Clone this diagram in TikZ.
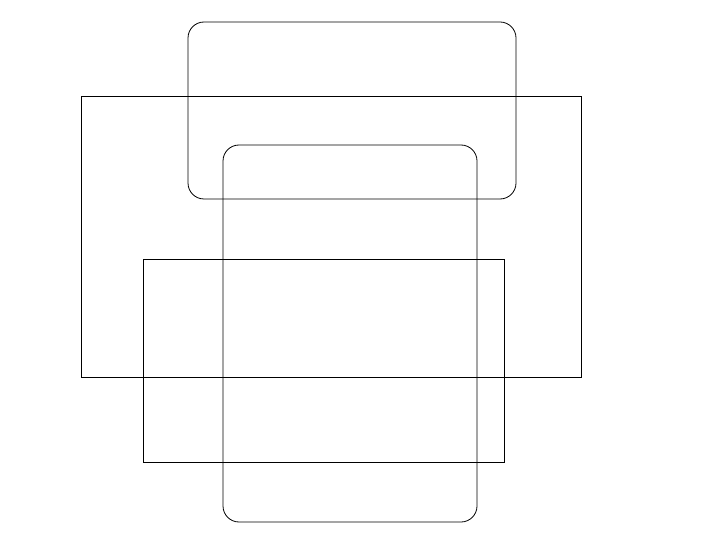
\documentclass[tikz,border=0pt]{standalone}
\begin{document}
\begin{tikzpicture}[x=1pt,y=-1pt,
  box/.style={draw=black,line width=0.8pt,inner sep=0pt,outer sep=0pt},
  roundbox/.style={box,rounded corners=16pt}]
\useasboundingbox[fill=white] (0,0) rectangle (715,548);
\node[roundbox,minimum width=328pt,minimum height=177pt] (top) at (352,110.5) {};
\node[box,minimum width=500pt,minimum height=281pt] (wide) at (331,236.5) {};
\node[roundbox,minimum width=254pt,minimum height=377pt] (tall) at (350,333.5) {};
\node[box,minimum width=361pt,minimum height=203pt] (low) at (323.5,360.5) {};
\end{tikzpicture}
\end{document}
